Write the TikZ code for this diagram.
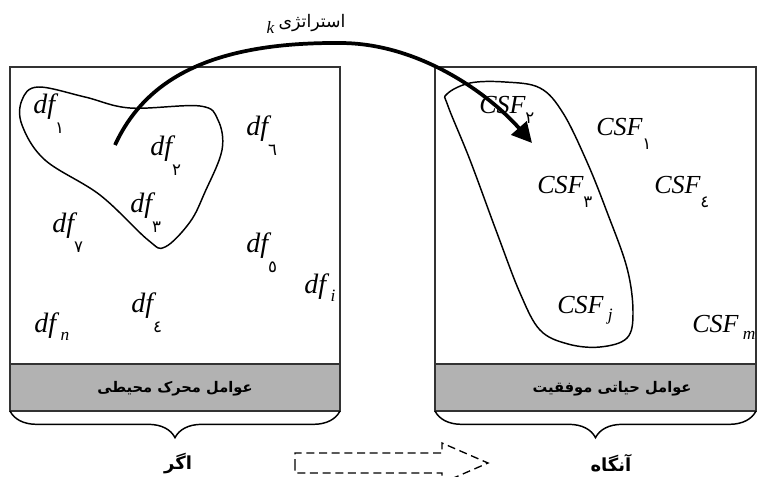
\documentclass[tikz,border=0pt]{standalone}
\usepackage{fontspec}
\setmainfont{Liberation Serif}
\newfontfamily\arabicfont[Script=Arabic]{DejaVu Sans}
\TeXXeTstate=1
\usetikzlibrary{arrows.meta,positioning,calc,decorations.pathreplacing}

% subscripts: arabic digits hang low, latin letters sit as usual
\newcommand{\subar}[2][-0.72em]{\raisebox{#1}{\fontsize{12.5}{12.5}\selectfont\upshape\arabicfont #2}}
\newcommand{\sublat}[1]{\raisebox{-0.3em}{\fontsize{13}{13}\selectfont\itshape #1}}

\begin{document}
\begin{tikzpicture}[x=0.75pt, y=-0.75pt,
  fac/.style={anchor=base west, inner sep=0pt, font=\fontsize{21}{24}\selectfont\itshape},
  crit/.style={anchor=base west, inner sep=0pt, font=\fontsize{19.5}{22}\selectfont\itshape},
  panel/.style={draw=black!80, line width=0.9pt},
  band/.style={fill=black!30, draw=black!80, line width=0.9pt},
  blob/.style={draw, line width=1.1pt},
  strat/.style={line width=2.8pt, -{Triangle[length=15pt,width=15pt]}},
  brc/.style={decorate, decoration={brace, amplitude=20pt}, line width=1.1pt},
  bandtext/.style={font=\fontsize{11}{13}\selectfont\arabicfont\bfseries},
  ifthen/.style={font=\fontsize{13.5}{15}\selectfont\arabicfont\bfseries},
  arrowbox/.style={dash pattern=on 6pt off 3.5pt, line width=1pt}]

  \useasboundingbox (0,0) rectangle (757,476);

  % Define panels
  \coordinate (Ltop) at (10,67);
  \coordinate (Lbot) at (340,411);
  \coordinate (Rtop) at (435,67);
  \coordinate (Rbot) at (756,411);
  \draw[panel] (Ltop) rectangle (Lbot);
  \draw[panel] (Rtop) rectangle (Rbot);
  \draw[band] (10,364) rectangle (Lbot);
  \draw[band] (435,364) rectangle (Rbot);

  % Define nodes
  \node[fac] (d1) at (33,113) {df\subar{١}};
  \node[fac] (d2) at (150,155) {df\subar{٢}};
  \node[fac] (d3) at (130,212) {df\subar{٣}};
  \node[fac] (d7) at (52,232) {df\subar{٧}};
  \node[fac] (d6) at (246,135) {df\subar{٦}};
  \node[fac] (d5) at (246,252) {df\subar{٥}};
  \node[fac] (di) at (304,293) {df\,\sublat{i}};
  \node[fac] (d4) at (131,312) {df\subar{٤}};
  \node[fac] (dn) at (34,332) {df\,\sublat{n}};

  \node[crit] (c2) at (479,113) {CSF\subar[-0.4em]{٢}};
  \node[crit] (c1) at (596,135) {CSF\subar[-0.55em]{١}};
  \node[crit] (c3) at (537,193) {CSF\subar[-0.55em]{٣}};
  \node[crit] (c4) at (654,193) {CSF\subar[-0.55em]{٤}};
  \node[crit] (cj) at (557,313) {CSF\,\sublat{j}};
  \node[crit] (cm) at (692,332) {CSF\,\sublat{m}};

  \node[bandtext] (envf) at (175,389) {\beginR عوامل محرک محیطی\endR};
  \node[bandtext] (csf) at (612,389) {\beginR عوامل حیاتی موفقیت\endR};
  \node[ifthen] (if) at (178,463) {\beginR اگر\endR};
  \node[ifthen] (then) at (611,463) {\beginR آنگاه\endR};
  \node[font=\fontsize{13}{15}\selectfont] (title) at (306,24)
    {\sublat{k} {\arabicfont\beginR استراتژی\endR}};

  % Groups of factors
  \draw[blob] plot[smooth cycle, tension=0.6] coordinates {(22,100) (38,87) (85,97)
    (130,108) (200,106) (218,120) (222,150) (205,192) (190,222) (165,247) (148,240)
    (100,195) (45,160) (22,125)};
  \draw[blob] plot[smooth cycle, tension=0.6] coordinates {(447,94) (470,83) (505,82)
    (540,88) (563,113) (587,162) (607,212) (627,268) (633,312) (627,338) (600,347)
    (568,344) (540,330) (520,293) (497,233) (470,160) (448,106)};

  % Draw arrows
  \coordinate (s) at (115,145);
  \coordinate (peak) at (340,43);
  \coordinate (t) at (532,143);
  \draw[strat] (s) .. controls (145,80) and (210,42) .. (peak)
    .. controls (420,43) and (490,95) .. (t);

  \draw[brc] (Lbot) -- (10,411);
  \draw[brc] (Rbot) -- (435,411);

  \draw[arrowbox] (295,467) -- (295,453) -- (442,453) -- (442,443) -- (488,463)
    -- (442,483) -- (442,473) -- (295,473) -- cycle;
\end{tikzpicture}
\end{document}
